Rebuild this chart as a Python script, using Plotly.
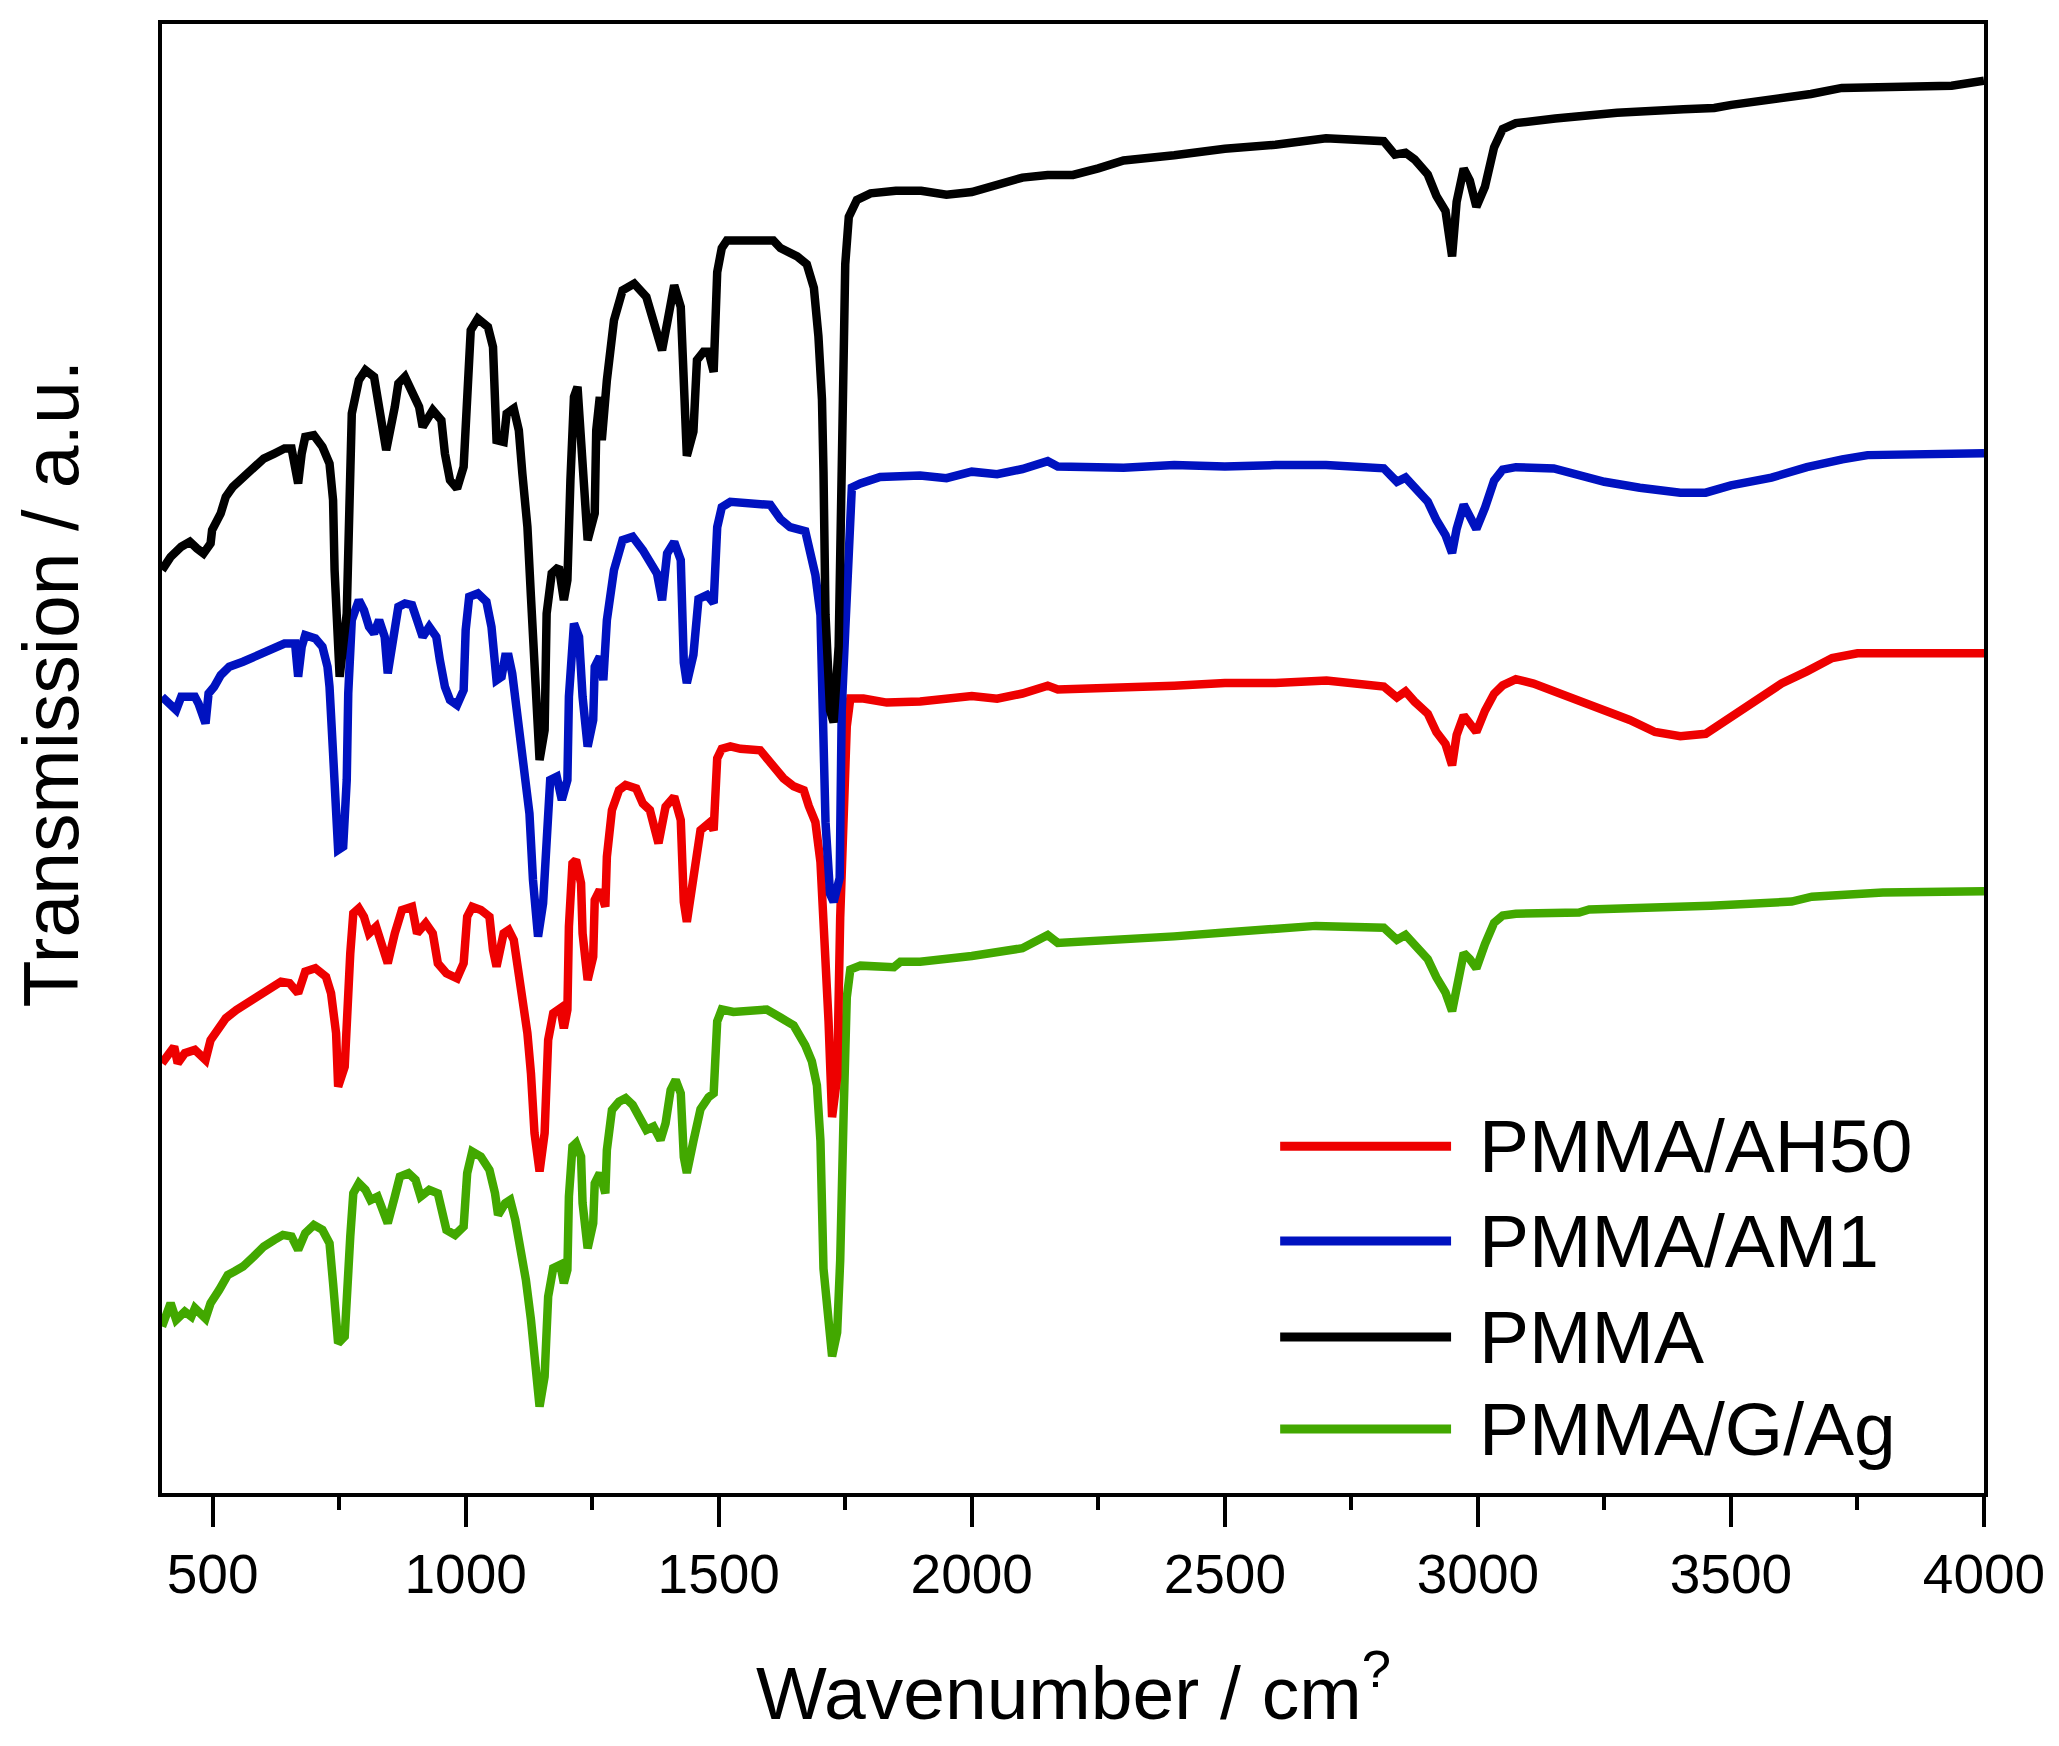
import plotly.graph_objects as go

# ---------------- data ----------------
series_names = ["PMMA/AH50", "PMMA/AM1", "PMMA", "PMMA/G/Ag"]
series_colors = ["#EE0000", "#0012C0", "#000000", "#42A800"]

pmma_wn = [400, 417, 438, 455, 469, 482, 496, 499, 516, 526, 540, 560, 581, 601, 622, 642, 656, 663, 669, 676,
           683, 700, 717, 731, 738, 741, 751, 765, 768, 775, 789, 802, 819, 829, 843, 860, 867, 880, 894, 908,
           915, 935, 952, 959, 969, 983, 996, 1003, 1010, 1024, 1044, 1054, 1061, 1075, 1081, 1095, 1105, 1112,
           1122, 1129, 1139, 1146, 1156, 1160, 1170, 1184, 1194, 1201, 1207, 1214, 1221, 1228, 1241, 1255, 1258,
           1265, 1269, 1279, 1293, 1310, 1333, 1357, 1367, 1388, 1398, 1412, 1425, 1431, 1437, 1450, 1457, 1470,
           1480, 1490, 1493, 1497, 1506, 1516, 1556, 1608, 1622, 1655, 1674, 1688, 1697, 1704, 1707, 1711, 1720,
           1727, 1737, 1740, 1747, 1750, 1757, 1773, 1800, 1850, 1900, 1950, 2000, 2050, 2100, 2150, 2200, 2250,
           2300, 2400, 2500, 2600, 2700, 2814, 2836, 2857, 2875, 2901, 2918, 2936, 2949, 2958, 2972, 2984, 2997,
           3014, 3032, 3049, 3075, 3153, 3275, 3406, 3467, 3501, 3580, 3658, 3719, 3936, 4000]
pmma_t = [70.30, 71.31, 72.08, 72.46, 71.95, 71.57, 72.33, 73.35, 74.62, 75.88, 76.65, 77.41, 78.17, 78.80, 79.18,
          79.56, 79.56, 78.17, 76.90, 79.18, 80.45, 80.58, 79.69, 78.42, 75.63, 70.30, 62.18, 67.00, 74.62, 82.23,
          84.77, 85.53, 85.02, 82.23, 79.44, 82.74, 84.51, 85.02, 84.00, 82.74, 81.21, 82.48, 81.72, 79.18, 77.15,
          76.52, 78.17, 82.23, 88.57, 89.46, 88.83, 87.30, 80.20, 80.07, 82.23, 82.61, 80.96, 77.66, 73.60, 68.27,
          61.92, 55.83, 58.12, 67.00, 70.05, 70.55, 68.02, 69.54, 77.15, 83.50, 84.26, 79.69, 72.58, 74.62, 80.96,
          83.50, 80.20, 84.77, 89.33, 91.62, 92.13, 91.11, 89.84, 87.05, 89.08, 92.00, 90.35, 83.30, 79.00, 80.86,
          86.30, 86.93, 86.93, 85.40, 87.54, 93.00, 94.83, 95.40, 95.40, 95.40, 94.83, 94.20, 93.60, 91.80, 88.10,
          83.30, 77.80, 66.90, 59.60, 58.70, 64.50, 74.20, 86.30, 93.60, 97.20, 98.50, 99.00, 99.20, 99.20, 98.90,
          99.10, 99.70, 100.20, 100.40, 100.40, 100.90, 101.50, 101.90, 102.40, 102.70, 103.20, 102.97, 101.95,
          102.10, 101.58, 100.43, 98.81, 97.66, 94.20, 98.35, 100.89, 99.97, 97.98, 99.50, 102.50, 103.90, 104.35,
          104.70, 105.14, 105.41, 105.50, 105.74, 106.10, 106.57, 107.03, 107.20, 107.58]

am1_wn = [400, 428, 438, 465, 472, 486, 492, 503, 516, 533, 560, 581, 601, 622, 642, 663, 669, 676, 683, 703,
          717, 727, 731, 738, 748, 758, 765, 768, 775, 789, 799, 809, 819, 829, 840, 846, 860, 867, 880, 894,
          904, 915, 928, 942, 949, 959, 969, 983, 996, 1000, 1007, 1024, 1041, 1051, 1061, 1071, 1078, 1085, 1092,
          1102, 1112, 1126, 1133, 1143, 1153, 1160, 1167, 1180, 1190, 1201, 1204, 1214, 1224, 1231, 1241, 1252,
          1255, 1265, 1272, 1279, 1293, 1310, 1330, 1350, 1364, 1378, 1388, 1398, 1412, 1425, 1431, 1437, 1450,
          1460, 1477, 1490, 1497, 1506, 1523, 1602, 1622, 1641, 1671, 1681, 1691, 1701, 1704, 1711, 1720, 1727,
          1739, 1743, 1750, 1757, 1763, 1780, 1819, 1898, 1950, 2000, 2050, 2100, 2150, 2170, 2300, 2400, 2500,
          2600, 2700, 2814, 2840, 2857, 2875, 2901, 2918, 2936, 2949, 2958, 2972, 2984, 2997, 3014, 3032, 3049,
          3075, 3150, 3200, 3250, 3320, 3400, 3450, 3500, 3580, 3650, 3720, 3770, 4000]
am1_t = [60.65, 59.64, 60.65, 60.65, 60.15, 58.62, 60.91, 61.41, 62.30, 62.94, 63.32, 63.70, 64.08, 64.46, 64.71,
         64.71, 62.18, 64.46, 65.35, 65.09, 64.46, 62.94, 61.41, 56.34, 48.98, 49.23, 54.31, 60.91, 66.49, 68.01,
         67.25, 65.98, 65.48, 66.49, 65.22, 62.43, 65.48, 67.50, 67.76, 67.63, 66.49, 65.22, 65.98, 65.22, 63.45,
         61.41, 60.40, 60.02, 61.16, 65.73, 68.27, 68.52, 67.89, 65.98, 61.92, 62.18, 63.70, 63.70, 62.43, 59.38,
         55.83, 51.77, 46.69, 42.38, 44.92, 51.52, 54.31, 54.56, 52.79, 54.31, 60.65, 66.24, 65.22, 60.65, 56.85,
         58.88, 62.94, 63.70, 61.92, 66.49, 70.30, 72.58, 72.84, 71.82, 70.81, 70.04, 68.01, 71.57, 72.45, 71.06,
         63.25, 61.70, 63.85, 68.10, 68.40, 67.80, 73.57, 75.09, 75.50, 75.27, 74.18, 73.57, 73.27, 71.75, 69.93,
         66.89, 62.03, 51.10, 45.64, 45.03, 46.85, 59.60, 65.70, 72.97, 76.60, 76.90, 77.40, 77.50, 77.30, 77.80,
         77.60, 78.00, 78.60, 78.20, 78.10, 78.30, 78.20, 78.30, 78.30, 78.05, 77.03, 77.35, 76.66, 75.51, 74.12,
         72.97, 71.60, 73.43, 75.28, 74.35, 73.43, 75.05, 77.12, 77.96, 78.14, 78.05, 77.59, 77.03, 76.57, 76.20,
         76.20, 76.75, 77.35, 78.14, 78.74, 79.06, 79.20]

ah50_wn = [400, 424, 431, 445, 465, 486, 496, 509, 526, 547, 567, 595, 615, 635, 652, 669, 683, 703, 724, 734,
           744, 748, 761, 765, 772, 778, 789, 799, 809, 823, 840, 846, 860, 874, 894, 904, 921, 935, 945, 962,
           983, 996, 1003, 1013, 1030, 1047, 1054, 1061, 1075, 1085, 1095, 1102, 1112, 1122, 1129, 1136, 1146,
           1156, 1163, 1173, 1187, 1194, 1201, 1204, 1211, 1218, 1228, 1231, 1241, 1252, 1255, 1265, 1276, 1279,
           1289, 1303, 1316, 1337, 1350, 1364, 1381, 1395, 1412, 1425, 1431, 1437, 1450, 1464, 1483, 1490, 1497,
           1506, 1523, 1543, 1582, 1602, 1628, 1648, 1668, 1678, 1691, 1701, 1711, 1717, 1724, 1734, 1740, 1747,
           1753, 1760, 1786, 1832, 1898, 2000, 2050, 2100, 2150, 2170, 2300, 2400, 2500, 2600, 2701, 2760, 2814,
           2840, 2857, 2875, 2901, 2918, 2936, 2949, 2958, 2972, 2984, 2997, 3014, 3032, 3049, 3075, 3110, 3150,
           3200, 3250, 3300, 3350, 3400, 3450, 3500, 3550, 3600, 3650, 3700, 3750, 4000]
ah50_t = [32.74, 34.00, 32.74, 33.50, 33.75, 32.99, 34.51, 35.27, 36.16, 36.80, 37.30, 38.07, 38.57, 38.95, 38.83,
          38.07, 39.72, 39.97, 39.33, 38.07, 35.02, 30.96, 32.48, 36.29, 41.11, 44.16, 44.54, 43.90, 42.63, 43.14,
          41.11, 40.35, 42.63, 44.41, 44.66, 42.63, 43.40, 42.63, 40.35, 39.59, 39.21, 40.35, 43.90, 44.66, 44.41,
          43.90, 41.37, 40.10, 42.63, 42.89, 42.13, 40.35, 38.07, 35.02, 31.97, 27.41, 24.49, 27.41, 34.51, 36.54,
          36.92, 35.40, 36.80, 43.14, 47.96, 48.22, 46.44, 42.63, 39.08, 40.86, 45.17, 45.93, 44.66, 48.47, 52.02,
          53.55, 53.93, 53.67, 52.53, 52.02, 49.49, 52.28, 53.04, 51.26, 45.03, 43.50, 46.85, 50.49, 51.10, 50.49,
          55.96, 56.69, 56.87, 56.69, 56.57, 55.66, 54.44, 53.83, 53.53, 52.32, 51.10, 48.06, 41.38, 35.92, 28.63,
          31.67, 43.81, 51.10, 58.39, 60.52, 60.52, 60.21, 60.30, 60.70, 60.50, 60.90, 61.50, 61.20, 61.30, 61.50,
          61.70, 61.70, 61.89, 61.66, 61.43, 60.60, 61.06, 60.28, 59.36, 57.97, 57.05, 55.43, 57.74, 59.22, 58.57,
          57.97, 59.59, 60.88, 61.52, 61.99, 61.66, 61.06, 60.42, 59.59, 58.89, 57.97, 57.65, 57.83, 59.13, 60.51,
          61.66, 62.59, 63.60, 63.97, 63.97]

gag_wn = [400, 417, 428, 445, 458, 465, 486, 496, 513, 530, 543, 560, 581, 601, 622, 639, 656, 669, 683, 700,
          717, 731, 738, 748, 761, 765, 772, 778, 789, 802, 812, 826, 840, 846, 860, 870, 887, 901, 911, 928,
          945, 952, 962, 979, 996, 1003, 1013, 1030, 1047, 1058, 1064, 1078, 1088, 1098, 1109, 1119, 1129, 1136,
          1146, 1156, 1163, 1173, 1187, 1194, 1201, 1204, 1211, 1218, 1228, 1231, 1241, 1252, 1255, 1265, 1276,
          1279, 1289, 1303, 1316, 1330, 1344, 1357, 1371, 1385, 1395, 1405, 1415, 1425, 1431, 1437, 1450, 1464,
          1480, 1490, 1497, 1506, 1529, 1595, 1622, 1648, 1671, 1684, 1694, 1701, 1707, 1717, 1724, 1734, 1740,
          1747, 1753, 1760, 1780, 1846, 1859, 1898, 2000, 2100, 2150, 2170, 2300, 2400, 2500, 2600, 2680, 2814,
          2840, 2857, 2875, 2901, 2918, 2936, 2949, 2958, 2972, 2984, 2997, 3014, 3032, 3049, 3075, 3200, 3220,
          3460, 3620, 3660, 3800, 4000]
gag_t = [12.68, 14.46, 13.19, 13.82, 13.44, 14.08, 13.30, 14.46, 15.47, 16.61, 16.87, 17.25, 18.01, 18.77, 19.28,
         19.66, 19.53, 18.52, 19.79, 20.42, 20.04, 19.03, 15.98, 11.41, 11.92, 15.98, 19.53, 22.83, 23.59, 23.09,
         22.32, 22.58, 21.31, 20.55, 22.58, 24.10, 24.36, 23.85, 22.58, 23.09, 22.83, 21.31, 20.04, 19.66, 20.29,
         24.36, 26.01, 25.62, 24.61, 22.83, 21.18, 22.07, 22.32, 20.80, 18.77, 16.23, 13.19, 9.63, 6.59, 8.87,
         14.96, 17.12, 17.38, 15.98, 16.99, 22.58, 26.39, 26.64, 25.62, 22.07, 18.64, 20.55, 23.59, 24.36, 22.83,
         26.13, 29.18, 29.81, 30.07, 29.56, 28.67, 27.66, 27.91, 26.89, 28.16, 30.70, 31.46, 30.45, 25.60, 24.38,
         26.81, 29.24, 30.15, 30.45, 35.92, 36.83, 36.65, 36.83, 36.22, 35.62, 34.10, 32.88, 31.06, 26.81, 17.09,
         12.23, 10.41, 12.23, 17.70, 29.24, 37.74, 39.87, 40.17, 40.05, 40.47, 40.47, 40.90, 41.50, 42.50, 41.90,
         42.10, 42.40, 42.70, 43.00, 43.20, 43.06, 42.14, 42.51, 41.82, 40.67, 39.28, 38.12, 36.70, 38.50, 41.13,
         40.67, 39.97, 41.82, 43.43, 43.99, 44.13, 44.22, 44.45, 44.73, 45.05, 45.42, 45.74, 45.84]

x_ticks = [500, 1000, 1500, 2000, 2500, 3000, 3500, 4000]
x_minor_ticks = [750, 1250, 1750, 2250, 2750, 3250, 3750]

series_x = [ah50_wn, am1_wn, pmma_wn, gag_wn]
series_y = [ah50_t, am1_t, pmma_t, gag_t]

# ---------------- figure ----------------
FONT = "Liberation Sans, Arial, sans-serif"
fig = go.Figure()

# draw order: green at bottom, then red, blue, black on top
draw_order = [3, 0, 1, 2]
for i in draw_order:
    fig.add_trace(go.Scatter(
        x=series_x[i], y=series_y[i], mode="lines", name=series_names[i],
        line=dict(color=series_colors[i], width=8.5), showlegend=False))

W, H = 2059, 1746
ml, mr, mt, mb = 162, 75, 24, 253

fig.update_layout(
    width=W, height=H,
    margin=dict(l=ml, r=mr, t=mt, b=mb),
    paper_bgcolor="white", plot_bgcolor="white",
    font=dict(family=FONT, color="black"),
)
fig.update_xaxes(
    range=[400, 4000], tickvals=x_ticks, ticktext=[str(v) for v in x_ticks],
    ticks="outside", ticklen=30, tickwidth=4, tickcolor="black",
    tickfont=dict(family=FONT, size=55, color="black"),
    showline=True, linewidth=4, linecolor="black", mirror=True,
    showgrid=False, zeroline=False,
    minor=dict(tickvals=x_minor_ticks, ticks="outside",
               ticklen=13, tickwidth=4, tickcolor="black", showgrid=False),
)
fig.update_yaxes(
    range=[0, 111.9], showticklabels=False, ticks="",
    showline=True, linewidth=4, linecolor="black", mirror=True,
    showgrid=False, zeroline=False,
)

# axis titles
fig.add_annotation(text="Wavenumber / cm<sup>?</sup>", xref="paper", yref="paper",
                   x=0.5, y=-0.132, xanchor="center", yanchor="middle", showarrow=False,
                   font=dict(family=FONT, size=75, color="black"))
fig.add_annotation(text="Transmission / a.u.", xref="paper", yref="paper",
                   x=-0.061, y=0.551, xanchor="center", yanchor="middle", showarrow=False,
                   textangle=-90, font=dict(family=FONT, size=77, color="black"))

# custom legend (long line samples)
leg_y = [0.2361, 0.1715, 0.1062, 0.0436]
for i, name in enumerate(series_names):
    fig.add_shape(type="line", xref="paper", yref="paper",
                  x0=0.6137, x1=0.7075, y0=leg_y[i], y1=leg_y[i],
                  line=dict(color=series_colors[i], width=9))
    fig.add_annotation(text=name, xref="paper", yref="paper", x=0.7218, y=leg_y[i],
                       xanchor="left", yanchor="middle", showarrow=False,
                       font=dict(family=FONT, size=75, color="black"))

fig.write_html("out.html")
